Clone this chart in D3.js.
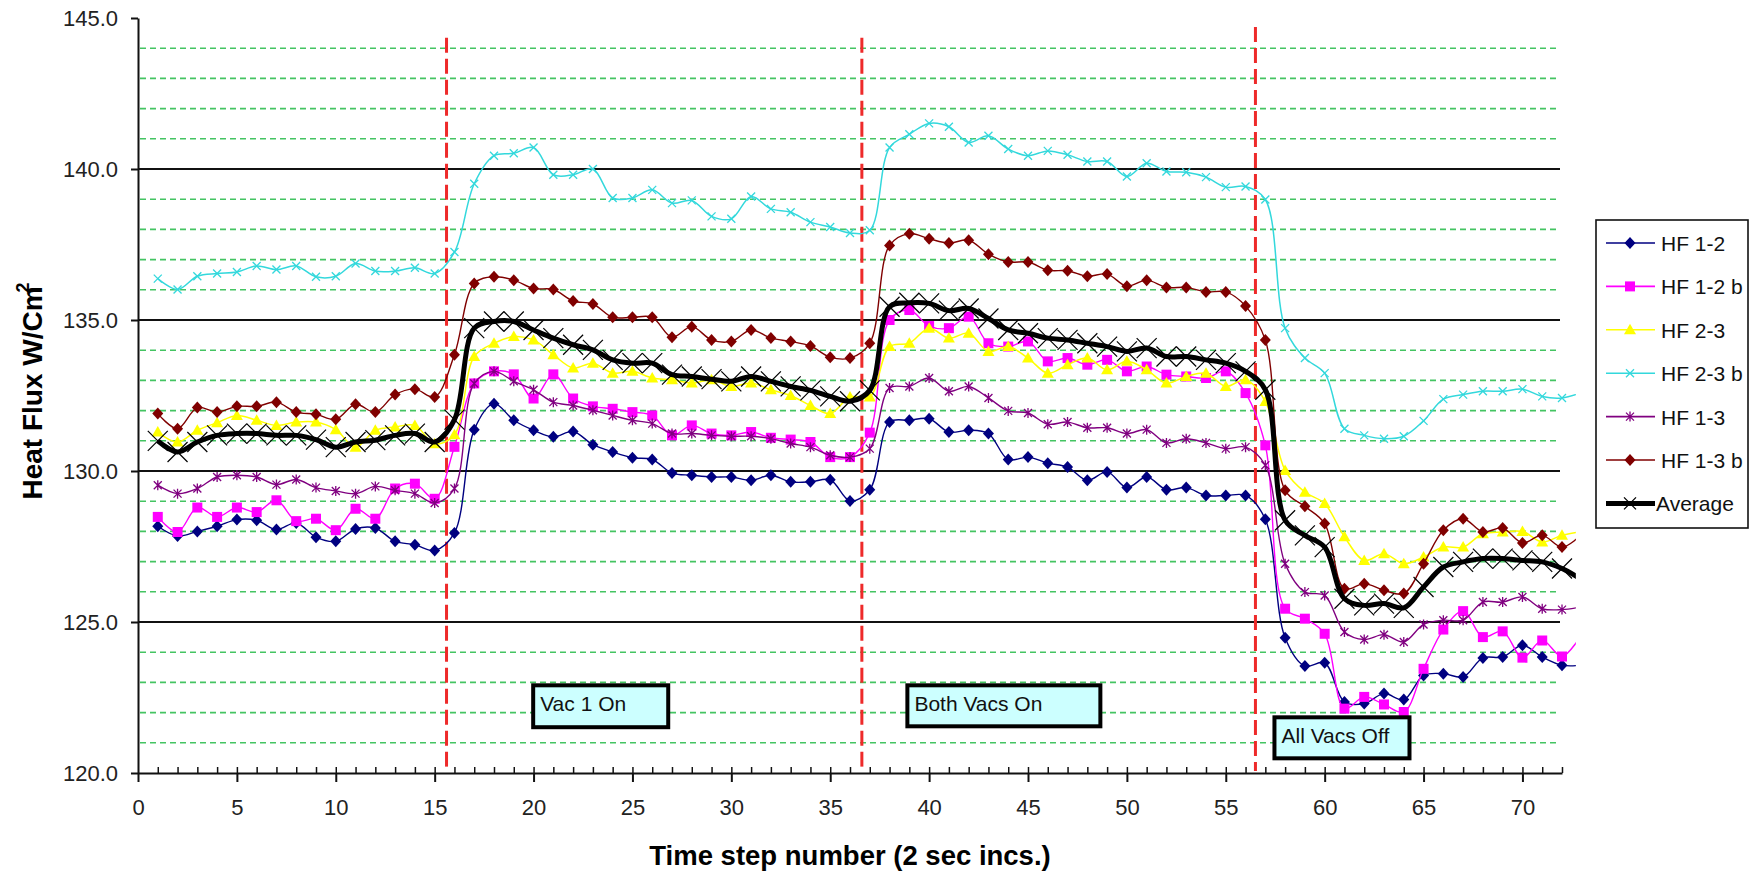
<!DOCTYPE html>
<html lang="en">
<head>
<meta charset="utf-8" />
<title>Heat Flux vs Time Step</title>
<script src="https://cdn.jsdelivr.net/npm/d3@7"></script>
<style>
  body { margin: 0; background: #fff; }
  svg { display: block; font-family: "Liberation Sans", Arial, sans-serif; }
</style>
</head>
<body>
<script>
/*************************** Data ***************************/

var series_names = ["HF 1-2", "HF 1-2 b", "HF 2-3", "HF 2-3 b", "HF 1-3", "HF 1-3 b", "Average"];

// time steps 1..73 (the last point runs just past the axis end)
var time_steps = d3.range(1, 74);

var hf_12 = [128.17, 127.85, 128.0, 128.17, 128.39, 128.37, 128.06, 128.28, 127.81, 127.67,
  128.08, 128.11, 127.67, 127.56, 127.37, 127.95, 131.37, 132.23, 131.68, 131.35,
  131.13, 131.31, 130.87, 130.63, 130.44, 130.38, 129.93, 129.86, 129.80, 129.80,
  129.69, 129.86, 129.64, 129.64, 129.71, 129.01, 129.38, 131.62, 131.68, 131.73,
  131.29, 131.35, 131.24, 130.38, 130.46, 130.26, 130.13, 129.69, 129.97, 129.45,
  129.80, 129.38, 129.45, 129.19, 129.19, 129.19, 128.40, 124.48, 123.54, 123.65,
  122.35, 122.30, 122.63, 122.43, 123.23, 123.29, 123.18, 123.81, 123.84, 124.23,
  123.84, 123.57, 123.57];

var hf_12b = [128.48, 127.98, 128.79, 128.48, 128.79, 128.64, 129.03, 128.34, 128.42, 128.04,
  128.75, 128.42, 129.42, 129.58, 129.08, 130.8, 132.9, 133.3, 133.2, 132.4,
  133.2, 132.4, 132.14, 132.06, 131.95, 131.84, 131.18, 131.51, 131.24, 131.18,
  131.29, 131.10, 131.04, 130.96, 130.46, 130.46, 131.27, 135.0, 135.33, 134.8,
  134.73, 135.11, 134.23, 134.12, 134.29, 133.63, 133.74, 133.52, 133.68, 133.30,
  133.46, 133.19, 133.13, 133.08, 133.30, 132.58, 130.85, 125.44, 125.11, 124.61,
  122.13, 122.52, 122.27, 122.02, 123.45, 124.75, 125.36, 124.50, 124.69, 123.82,
  124.39, 123.86, 124.6];

var hf_23 = [131.29, 130.96, 131.35, 131.6, 131.84, 131.68, 131.51, 131.62, 131.62, 131.37,
  130.79, 131.35, 131.46, 131.51, 130.9, 131.2, 133.79, 134.23, 134.45, 134.34,
  133.85, 133.41, 133.57, 133.24, 133.30, 133.08, 133.02, 132.91, 133.02, 132.80,
  132.91, 132.69, 132.5, 132.17, 131.9, 132.45, 132.45, 134.12, 134.23, 134.73,
  134.40, 134.56, 133.96, 134.12, 133.74, 133.24, 133.52, 133.74, 133.35, 133.63,
  133.35, 132.91, 133.13, 133.24, 132.80, 133.02, 132.3, 130.02, 129.30, 128.92,
  127.82, 127.04, 127.26, 126.93, 127.15, 127.48, 127.48, 127.92, 127.98, 128.00,
  127.65, 127.87, 128.0];

var hf_23b = [136.37, 136.01, 136.45, 136.54, 136.59, 136.79, 136.67, 136.79, 136.43, 136.45,
  136.87, 136.62, 136.62, 136.73, 136.54, 137.25, 139.51, 140.44, 140.52, 140.71,
  139.81, 139.81, 140.0, 139.04, 139.04, 139.31, 138.87, 138.96, 138.43, 138.35,
  139.09, 138.68, 138.57, 138.24, 138.08, 137.88, 137.97, 140.71, 141.15, 141.51,
  141.40, 140.88, 141.10, 140.66, 140.44, 140.60, 140.47, 140.25, 140.25, 139.75,
  140.19, 139.92, 139.89, 139.73, 139.40, 139.42, 138.99, 134.73, 133.74, 133.24,
  131.40, 131.18, 131.07, 131.15, 131.66, 132.38, 132.53, 132.64, 132.64, 132.71,
  132.47, 132.42, 132.6];

var hf_13 = [129.53, 129.25, 129.42, 129.80, 129.86, 129.80, 129.55, 129.72, 129.45, 129.34,
  129.25, 129.49, 129.36, 129.25, 128.94, 129.42, 132.9, 133.30, 132.97, 132.69,
  132.28, 132.17, 132.01, 131.84, 131.68, 131.57, 131.24, 131.24, 131.18, 131.15,
  131.15, 131.07, 130.91, 130.79, 130.52, 130.46, 130.74, 132.75, 132.80, 133.08,
  132.64, 132.80, 132.42, 131.99, 131.92, 131.55, 131.62, 131.43, 131.43, 131.24,
  131.37, 130.93, 131.07, 130.93, 130.74, 130.79, 130.19, 126.93, 125.99, 125.88,
  124.67, 124.42, 124.58, 124.34, 124.92, 125.06, 125.06, 125.66, 125.66, 125.83,
  125.44, 125.41, 125.5];

var hf_13b = [131.90, 131.40, 132.10, 131.95, 132.14, 132.14, 132.28, 131.95, 131.88, 131.71,
  132.21, 131.95, 132.53, 132.71, 132.45, 133.85, 136.21, 136.43, 136.32, 136.04,
  136.01, 135.63, 135.53, 135.09, 135.09, 135.09, 134.43, 134.78, 134.34, 134.29,
  134.67, 134.40, 134.29, 134.14, 133.77, 133.74, 134.23, 137.47, 137.86, 137.69,
  137.55, 137.64, 137.18, 136.92, 136.92, 136.65, 136.63, 136.45, 136.52, 136.12,
  136.32, 136.08, 136.08, 135.93, 135.93, 135.46, 134.34, 129.36, 128.83, 128.26,
  126.10, 126.27, 126.05, 125.94, 126.93, 128.04, 128.42, 127.98, 128.11, 127.62,
  127.87, 127.48, 127.9];

var average = [131.0, 130.63, 130.96, 131.18, 131.24, 131.24, 131.18, 131.18, 131.04, 130.79,
  130.96, 131.02, 131.18, 131.24, 130.96, 131.7, 134.73, 134.95, 134.95, 134.67,
  134.40, 134.18, 134.01, 133.68, 133.57, 133.57, 133.19, 133.13, 133.04, 132.97,
  133.13, 132.97, 132.80, 132.67, 132.47, 132.31, 132.67, 135.44, 135.57, 135.55,
  135.31, 135.38, 135.05, 134.67, 134.56, 134.40, 134.34, 134.23, 134.12, 133.96,
  134.07, 133.79, 133.79, 133.68, 133.57, 133.30, 132.69, 128.37, 127.87, 127.48,
  125.77, 125.55, 125.61, 125.47, 126.16, 126.82, 126.99, 127.10, 127.10, 127.04,
  126.99, 126.77, 126.4];

var x_major_ticks = [0, 5, 10, 15, 20, 25, 30, 35, 40, 45, 50, 55, 60, 65, 70];
var y_major_ticks = [120, 125, 130, 135, 140, 145];
var y_grid_major = [125, 130, 135, 140];
var y_grid_minor = [121, 122, 123, 124, 126, 127, 128, 129, 131, 132, 133, 134,
  136, 137, 138, 139, 141, 142, 143, 144];

// vacuum events: time step and top of the marker line
var event_steps = [15.6, 36.6, 56.5];
var event_tops = [144.35, 144.35, 144.7];

// annotation boxes: text and extent in chart units
var note_texts = ["Vac 1 On", "Both Vacs On", "All Vacs Off"];
var note_t0 = [19.88, 38.8, 57.36];
var note_t1 = [26.91, 48.76, 64.39];
var note_v0 = [122.97, 122.97, 121.91];
var note_v1 = [121.45, 121.48, 120.42];

/*************************** Canvas ***************************/

var W = 1752, H = 874;
var x = d3.scaleLinear().domain([0, 72]).range([138, 1562]);
var y = d3.scaleLinear().domain([120, 145]).range([773, 18]);

var svg = d3.select("body").append("svg").attr("width", W).attr("height", H);

/*************************** Grid ***************************/

svg.append("g").selectAll("line").data(y_grid_minor).enter().append("line")
  .attr("x1", x(0) + 2).attr("x2", x(72) - 6)
  .attr("y1", function (d) { return y(d); }).attr("y2", function (d) { return y(d); })
  .attr("stroke", "#44c462").attr("stroke-width", 1.6).attr("stroke-dasharray", "6,4");

svg.append("g").selectAll("line").data(y_grid_major).enter().append("line")
  .attr("x1", x(0)).attr("x2", x(72) - 2)
  .attr("y1", function (d) { return y(d); }).attr("y2", function (d) { return y(d); })
  .attr("stroke", "#111").attr("stroke-width", 2);

/*************************** Axes ***************************/

var font = "Liberation Sans, Arial, sans-serif";

var gx_minor = svg.append("g").attr("transform", "translate(0," + y(120) + ")")
  .call(d3.axisBottom(x).tickValues(time_steps.slice(0, 72)).tickSize(-6).tickFormat("").tickSizeOuter(0));
gx_minor.select(".domain").remove();
gx_minor.selectAll(".tick line").attr("stroke", "#111").attr("stroke-width", 1.5);

var gx = svg.append("g").attr("transform", "translate(0," + y(120) + ")")
  .call(d3.axisBottom(x).tickValues(x_major_ticks).tickSize(9).tickPadding(17).tickSizeOuter(0));
gx.attr("font-size", 22).attr("font-family", font);
gx.select(".domain").attr("stroke", "#111").attr("stroke-width", 2);
gx.selectAll(".tick line").attr("stroke", "#111").attr("stroke-width", 2);
gx.selectAll(".tick text").attr("fill", "#222");

var gy = svg.append("g").attr("transform", "translate(" + x(0) + ",0)")
  .call(d3.axisLeft(y).tickValues(y_major_ticks).tickSize(7).tickPadding(13)
    .tickSizeOuter(0).tickFormat(d3.format(".1f")));
gy.attr("font-size", 22).attr("font-family", font);
gy.select(".domain").attr("stroke", "#111").attr("stroke-width", 2);
gy.selectAll(".tick line").attr("stroke", "#111").attr("stroke-width", 2);
gy.selectAll(".tick text").attr("fill", "#222");

svg.append("text")
  .attr("x", 850).attr("y", 865)
  .attr("text-anchor", "middle").attr("font-weight", "bold").attr("font-size", 27.5)
  .text("Time step number (2 sec incs.)");

var ylab = svg.append("text")
  .attr("transform", "translate(42,391) rotate(-90)")
  .attr("text-anchor", "middle").attr("font-weight", "bold").attr("font-size", 28);
ylab.append("tspan").text("Heat Flux W/Cm");
ylab.append("tspan").attr("font-size", 18).attr("dx", -6).attr("dy", -13).text("2");

/*************************** Event lines ***************************/

svg.append("g").selectAll("line").data(event_steps).enter().append("line")
  .attr("x1", function (d) { return x(d); }).attr("x2", function (d) { return x(d); })
  .attr("y1", function (d, i) { return y(event_tops[i]); }).attr("y2", y(120) - 2)
  .attr("stroke", "#ee2a2a").attr("stroke-width", 3).attr("stroke-dasharray", "15,6");

/*************************** Series ***************************/

var diamond = "M0,-6L5.5,0L0,6L-5.5,0Z";
var square = "M-5,-5H5V5H-5Z";
var triangle = "M0,-6L6,4.5L-6,4.5Z";
var cross = "M-4,-4L4,4M-4,4L4,-4";
var star = "M-4,-4L4,4M-4,4L4,-4M0,-5V5";
var big_x = "M-10,-10L10,10M-10,10L10,-10";

var series = [
  { name: series_names[0], values: hf_12, color: "#000080", width: 1.4, marker: diamond, fill: "#000080", mstroke: "none" },
  { name: series_names[1], values: hf_12b, color: "#ff00ff", width: 1.4, marker: square, fill: "#ff00ff", mstroke: "none" },
  { name: series_names[2], values: hf_23, color: "#ffff00", width: 1.5, marker: triangle, fill: "#ffff00", mstroke: "none" },
  { name: series_names[3], values: hf_23b, color: "#33d8dc", width: 1.5, marker: cross, fill: "none", mstroke: "#33d8dc" },
  { name: series_names[4], values: hf_13, color: "#800080", width: 1.4, marker: star, fill: "none", mstroke: "#800080" },
  { name: series_names[5], values: hf_13b, color: "#800000", width: 1.4, marker: diamond, fill: "#800000", mstroke: "none" },
  { name: series_names[6], values: average, color: "#000", width: 5, marker: big_x, fill: "none", mstroke: "#000" }
];

svg.append("clipPath").attr("id", "plot-clip").append("rect")
  .attr("x", x(0)).attr("y", 0).attr("width", x(72.7) - x(0)).attr("height", y(120) + 20);

var line_gen = d3.line()
  .x(function (d, i) { return x(time_steps[i]); })
  .y(function (d) { return y(d); })
  .curve(d3.curveCatmullRom.alpha(0.5));

var plot = svg.append("g").attr("clip-path", "url(#plot-clip)");

series.forEach(function (s) {
  var g = plot.append("g");
  g.append("path").attr("d", line_gen(s.values))
    .attr("fill", "none").attr("stroke", s.color).attr("stroke-width", s.width)
    .attr("stroke-linejoin", "round");
  g.selectAll("path.mk").data(s.values.slice(0, 72)).enter().append("path")
    .attr("class", "mk").attr("d", s.marker)
    .attr("transform", function (d, i) { return "translate(" + x(time_steps[i]) + "," + y(d) + ")"; })
    .attr("fill", s.fill).attr("stroke", s.mstroke).attr("stroke-width", s.name == "Average" ? 1.2 : 1.3);
});

/*************************** Notes ***************************/

var notes = svg.append("g").selectAll("g").data(note_texts).enter().append("g");
notes.append("rect")
  .attr("x", function (d, i) { return x(note_t0[i]) + 2; })
  .attr("y", function (d, i) { return y(note_v0[i]) + 2; })
  .attr("width", function (d, i) { return x(note_t1[i]) - x(note_t0[i]) - 4; })
  .attr("height", function (d, i) { return y(note_v1[i]) - y(note_v0[i]) - 4; })
  .attr("fill", "#ccffff").attr("stroke", "#000").attr("stroke-width", 4);
notes.append("text")
  .attr("x", function (d, i) { return x(note_t0[i]) + 9; })
  .attr("y", function (d, i) { return y(note_v0[i]) + 28; })
  .attr("font-size", 21).attr("fill", "#111")
  .text(function (d) { return d; });

/*************************** Legend ***************************/

var legend = svg.append("g");
legend.append("rect").attr("x", 1596).attr("y", 220).attr("width", 152).attr("height", 308)
  .attr("fill", "#fff").attr("stroke", "#111").attr("stroke-width", 1.6);

var items = legend.selectAll("g.item").data(series).enter().append("g")
  .attr("class", "item")
  .attr("transform", function (d, i) { return "translate(1606," + (243 + i * 43.4) + ")"; });
items.append("line").attr("x1", 0).attr("x2", 49).attr("y1", 0).attr("y2", 0)
  .attr("stroke", function (d) { return d.color; })
  .attr("stroke-width", function (d) { return d.name == "Average" ? 5 : 1.6; });
items.append("path")
  .attr("d", function (d) { return d.name == "Average" ? "M-6,-6L6,6M-6,6L6,-6" : d.marker; })
  .attr("transform", "translate(24,0)")
  .attr("fill", function (d) { return d.fill; })
  .attr("stroke", function (d) { return d.mstroke; }).attr("stroke-width", 1.3);
items.append("text").attr("x", function (d) { return d.name == "Average" ? 50 : 55; }).attr("y", 8)
  .attr("font-size", 21).attr("fill", "#111")
  .text(function (d) { return d.name; });
</script>
</body>
</html>
